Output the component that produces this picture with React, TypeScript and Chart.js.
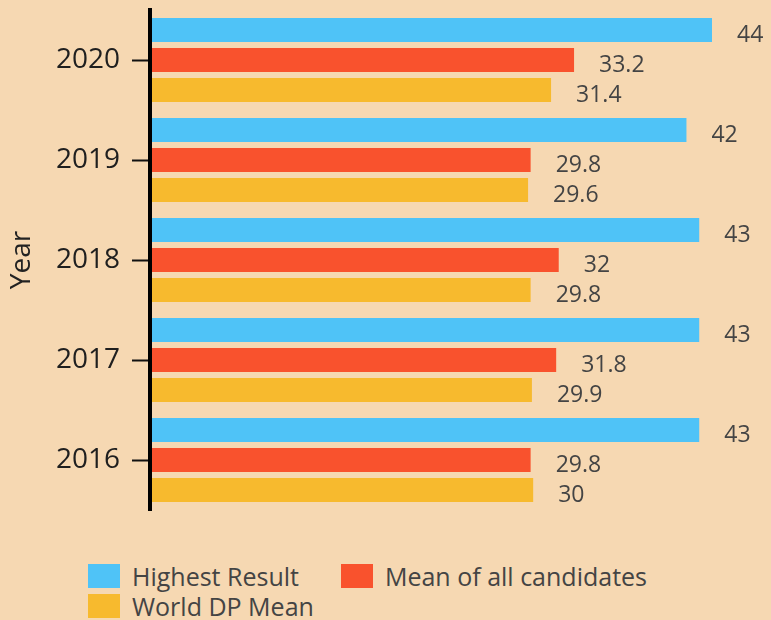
import React, { useEffect, useRef } from "react";
import { Chart, registerables } from "chart.js";

Chart.register(...registerables);

const years = ["2020", "2019", "2018", "2017", "2016"];
const highestResult = [44, 42, 43, 43, 43];
const meanAllCandidates = [33.2, 29.8, 32, 31.8, 29.8];
const worldDpMean = [31.4, 29.6, 29.8, 29.9, 30];

const seriesNames = ["Highest Result", "Mean of all candidates", "World DP Mean"];
const seriesColors = ["#4FC3F7", "#F9522D", "#F7BA2E"];
const BG = "#F6D8B2";
const FONT = '"Open Sans", sans-serif';

const valueLabels = {
  id: "valueLabels",
  afterDatasetsDraw(chart: any) {
    const ctx = chart.ctx;
    ctx.save();
    ctx.font = `23px ${FONT}`;
    ctx.fillStyle = "#444444";
    ctx.textAlign = "left";
    ctx.textBaseline = "alphabetic";
    chart.data.datasets.forEach((ds: any, i: number) => {
      chart.getDatasetMeta(i).data.forEach((bar: any, j: number) => {
        const p = bar.getProps(["x", "y", "height"], true);
        ctx.fillText(String(ds.data[j]), p.x + 25, p.y + p.height / 2);
      });
    });
    ctx.restore();
  },
};

export default function App() {
  const ref = useRef<HTMLCanvasElement | null>(null);

  useEffect(() => {
    if (!ref.current) return;
    const allValues = [...highestResult, ...meanAllCandidates, ...worldDpMean];
    const chart = new Chart(ref.current, {
      type: "bar",
      data: {
        labels: years,
        datasets: [highestResult, meanAllCandidates, worldDpMean].map((d, i) => ({
          label: seriesNames[i],
          data: d,
          backgroundColor: seriesColors[i],
          borderWidth: 0,
          categoryPercentage: 0.9,
          barPercentage: 0.8,
        })),
      },
      options: {
        indexAxis: "y",
        animation: false,
        responsive: true,
        maintainAspectRatio: false,
        layout: { padding: { top: 10, right: 59, bottom: 30, left: 0 } },
        plugins: {
          legend: { display: false },
          tooltip: { enabled: false },
        },
        scales: {
          x: {
            display: false,
            min: 0,
            max: Math.max(...allValues),
          },
          y: {
            afterFit(scale: any) {
              scale.width = 150;
              scale.paddingTop = 0;
              scale.paddingBottom = 0;
            },
            title: {
              display: true,
              text: "Year",
              color: "#222222",
              font: { family: FONT, size: 28 },
              padding: { top: 5, bottom: 0 },
            },
            ticks: {
              color: "#1f1f1f",
              font: { family: FONT, size: 28 },
              padding: 12,
            },
            grid: {
              display: true,
              drawOnChartArea: false,
              drawTicks: true,
              tickLength: 18,
              tickWidth: 2,
              tickColor: "#111111",
              offset: false,
            },
            border: { display: true, color: "#000000", width: 4, z: 1 },
          },
        },
      } as any,
      plugins: [valueLabels],
    });
    return () => chart.destroy();
  }, []);

  return (
    <div
      style={{
        position: "absolute",
        left: 0,
        top: 0,
        width: 771,
        height: 620,
        background: BG,
        overflow: "hidden",
        fontFamily: FONT,
      }}
    >
      <div style={{ position: "absolute", left: 0, top: 0, width: 771, height: 540 }}>
        <canvas ref={ref} />
      </div>
      <div
        style={{
          position: "absolute",
          left: 88,
          top: 564,
          width: 600,
          display: "flex",
          flexWrap: "wrap",
          columnGap: 42,
          rowGap: 6,
        }}
      >
        {seriesNames.map((name, i) => (
          <div key={name} style={{ display: "flex", alignItems: "center" }}>
            <span
              style={{
                display: "inline-block",
                width: 32,
                height: 24,
                background: seriesColors[i],
                marginRight: 12,
              }}
            />
            <span style={{ fontSize: 25, lineHeight: "24px", color: "#444444" }}>{name}</span>
          </div>
        ))}
      </div>
    </div>
  );
}
